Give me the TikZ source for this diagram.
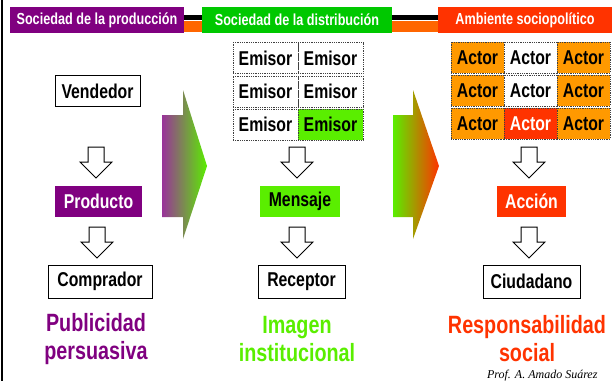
\documentclass[tikz,border=0pt]{standalone}
\usepackage{fontspec}
\setmainfont{Liberation Sans}[FakeStretch=0.79]
\newfontfamily\signfont{Liberation Serif}
\usetikzlibrary{positioning}
\definecolor{prodpurple}{RGB}{128,0,128}
\definecolor{distgreen}{RGB}{0,200,0}
\definecolor{limegreen}{RGB}{90,238,0}
\definecolor{ambred}{RGB}{255,51,0}
\definecolor{actorange}{RGB}{255,153,0}
\definecolor{bandorange}{RGB}{255,102,0}
\tikzset{
  header/.style={minimum height=26pt, inner sep=0pt, text=white, font=\fontsize{16}{18}\selectfont\bfseries},
  box/.style={draw, line width=1pt, fill=white, minimum height=31pt, inner sep=0pt, font=\fontsize{20}{22}\selectfont\bfseries},
  cell/.style={draw=black!75, densely dotted, line width=0.8pt, minimum height=31pt, inner sep=0pt, font=\fontsize{20}{22}\selectfont\bfseries},
  big/.style={align=center, font=\fontsize{25}{28}\selectfont\bfseries},
  downarrow/.pic={\draw[line width=1pt, fill=white] (-8,0) -- (8,0) -- (8,15) -- (16,15) -- (0,31) -- (-16,15) -- (-8,15) -- cycle;}
}
\begin{document}
\begin{tikzpicture}[x=1pt, y=-1pt]
    \useasboundingbox (0,0) rectangle (612,381);
    \fill[black] (1,0) rectangle (3,381);
% header band
\fill[black] (184,15) rectangle (438,20);
\fill[bandorange] (184,21) rectangle (438,32);
\node[header, fill=prodpurple, minimum width=174pt] (hprod) at (97,20) {Sociedad de la producción};
\node[header, fill=distgreen, minimum width=190pt] (hdist) at (297,20) {Sociedad de la distribución};
\node[header, fill=ambred, minimum width=174pt] (hamb) at (525,20) {Ambiente sociopolítico};
% produccion
\node[box, minimum width=85pt] (vend) at (97.5,91) {Vendedor};
\pic at (96,147) {downarrow};
\node[box, minimum width=87pt, draw=none, fill=prodpurple, text=white] (prod) at (98.5,201) {Producto};
\pic at (97,227) {downarrow};
\node[box, minimum width=104pt, minimum height=33pt] (comp) at (100,281.5) {Comprador};
\node[big, text=prodpurple] (pub) at (96,339) {Publicidad\\persuasiva};
% distribucion
\node[cell, minimum width=65pt] (em11) at (265.5,58) {Emisor};
\node[cell, minimum width=65pt] (em12) at (330.5,58) {Emisor};
\node[cell, minimum width=65pt] (em21) at (265.5,91.5) {Emisor};
\node[cell, minimum width=65pt] (em22) at (330.5,91.5) {Emisor};
\node[cell, minimum width=65pt] (em31) at (265.5,124.5) {Emisor};
\node[cell, minimum width=65pt, fill=limegreen] (em32) at (330.5,124.5) {Emisor};
\pic at (297,147) {downarrow};
\node[box, minimum width=80pt, draw=none, fill=limegreen] (mens) at (300,201) {Mensaje};
\pic at (297,227) {downarrow};
\node[box, minimum width=87pt, minimum height=33pt] (rec) at (301.5,281.5) {Receptor};
\node[big, text=limegreen] (img) at (297,339) {Imagen\\institucional};
% ambiente
\node[cell, minimum width=53pt, fill=actorange] (ac11) at (477.5,57.5) {Actor};
\node[cell, minimum width=53pt, fill=white] (ac12) at (530.5,57.5) {Actor};
\node[cell, minimum width=53pt, fill=actorange] (ac13) at (583.5,57.5) {Actor};
\node[cell, minimum width=53pt, fill=actorange] (ac21) at (477.5,90.5) {Actor};
\node[cell, minimum width=53pt, fill=white] (ac22) at (530.5,90.5) {Actor};
\node[cell, minimum width=53pt, fill=actorange] (ac23) at (583.5,90.5) {Actor};
\node[cell, minimum width=53pt, fill=actorange] (ac31) at (477.5,123.5) {Actor};
\node[cell, minimum width=53pt, fill=ambred, text=white] (ac32) at (530.5,123.5) {Actor};
\node[cell, minimum width=53pt, fill=actorange] (ac33) at (583.5,123.5) {Actor};
\pic at (529,147) {downarrow};
\node[box, minimum width=69pt, draw=none, fill=ambred, text=white] (acc) at (531.5,201) {Acción};
\pic at (529,227) {downarrow};
\node[box, minimum width=97pt, minimum height=33pt] (ciud) at (531.5,281.5) {Ciudadano};
\node[big, text=ambred] (resp) at (527,339) {Responsabilidad\\social};
% transiciones
\shade[left color=prodpurple!80!white, right color=limegreen] (162,115) -- (183,115) -- (183,90) -- (207,166) -- (183,239) -- (183,217) -- (162,217) -- cycle;
\shade[left color=limegreen, middle color=yellow!70!red!85!black, right color=ambred] (393,115) -- (413,115) -- (413,90) -- (439,166) -- (413,239) -- (413,217) -- (393,217) -- cycle;
    \node[anchor=base east, font=\signfont\itshape\fontsize{12}{13}\selectfont] (sign) at (601,378) {Prof. A. Amado Suárez};
    \end{tikzpicture}
\end{document}
